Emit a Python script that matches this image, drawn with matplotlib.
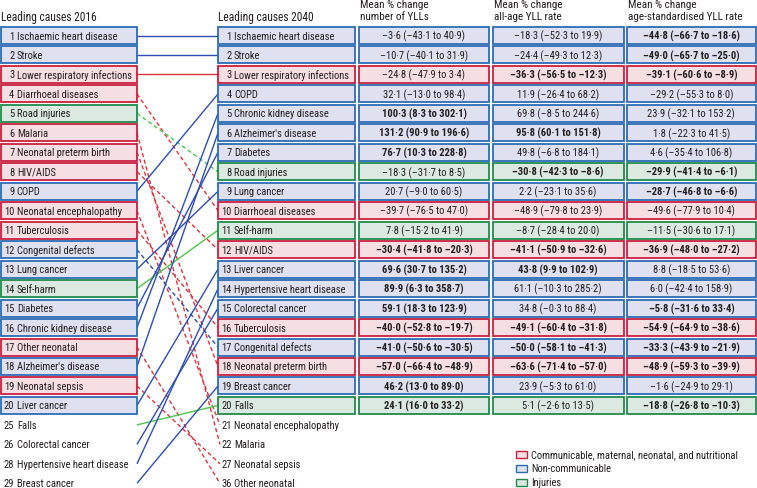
#!/usr/bin/env python3
"""Leading causes of YLLs, 2016 vs 2040 ranking chart."""

import matplotlib
matplotlib.use("Agg")
import matplotlib.pyplot as plt
from matplotlib import font_manager
from matplotlib.patches import Rectangle

# ---- data -------------------------------------------------------------
causes_2016 = [
    "Ischaemic heart disease", "Stroke", "Lower respiratory infections",
    "Diarrhoeal diseases", "Road injuries", "Malaria", "Neonatal preterm birth",
    "HIV/AIDS", "COPD", "Neonatal encephalopathy", "Tuberculosis",
    "Congenital defects", "Lung cancer", "Self-harm", "Diabetes",
    "Chronic kidney disease", "Other neonatal", "Alzheimer's disease",
    "Neonatal sepsis", "Liver cancer",
]
extra_2016_ranks = [25, 26, 28, 29]
extra_2016_names = ["Falls", "Colorectal cancer", "Hypertensive heart disease", "Breast cancer"]

causes_2040 = [
    "Ischaemic heart disease", "Stroke", "Lower respiratory infections", "COPD",
    "Chronic kidney disease", "Alzheimer's disease", "Diabetes", "Road injuries",
    "Lung cancer", "Diarrhoeal diseases", "Self-harm", "HIV/AIDS", "Liver cancer",
    "Hypertensive heart disease", "Colorectal cancer", "Tuberculosis",
    "Congenital defects", "Neonatal preterm birth", "Breast cancer", "Falls",
]
extra_2040_ranks = [21, 22, 27, 36]
extra_2040_names = ["Neonatal encephalopathy", "Malaria", "Neonatal sepsis", "Other neonatal"]

communicable = ["Lower respiratory infections", "Diarrhoeal diseases", "Malaria",
                "Neonatal preterm birth", "HIV/AIDS", "Neonatal encephalopathy",
                "Tuberculosis", "Other neonatal", "Neonatal sepsis"]
injuries = ["Road injuries", "Self-harm", "Falls"]

# mean % change, number of YLLs (rows follow causes_2040)
num_mean = [-3.6, -10.7, -24.8, 32.1, 100.3, 131.2, 76.7, -18.3, 20.7, -39.7,
            7.8, -30.4, 69.6, 89.9, 59.1, -40.0, -41.0, -57.0, 46.2, 24.1]
num_lo = [-43.1, -40.1, -47.9, -13.0, 8.3, 90.9, 10.3, -31.7, -9.0, -76.5,
          -15.2, -41.8, 30.7, 6.3, 18.3, -52.8, -50.6, -66.4, 13.0, 16.0]
num_hi = [40.9, 31.9, 3.4, 98.4, 302.1, 196.6, 228.8, 8.5, 60.5, 47.0,
          41.9, -20.3, 135.2, 358.7, 123.9, -19.7, -30.5, -48.9, 89.0, 33.2]
num_sig = [0, 0, 0, 0, 1, 1, 1, 0, 0, 0, 0, 1, 1, 1, 1, 1, 1, 1, 1, 1]

# mean % change, all-age YLL rate
rate_mean = [-18.3, -24.4, -36.3, 11.9, 69.8, 95.8, 49.8, -30.8, 2.2, -48.9,
             -8.7, -41.1, 43.8, 61.1, 34.8, -49.1, -50.0, -63.6, 23.9, 5.1]
rate_lo = [-52.3, -49.3, -56.5, -26.4, -8.5, 60.1, -6.8, -42.3, -23.1, -79.8,
           -28.4, -50.9, 9.9, -10.3, -0.3, -60.4, -58.1, -71.4, -5.3, -2.6]
rate_hi = [19.9, 12.3, -12.3, 68.2, 244.6, 151.8, 184.1, -8.6, 35.6, 23.9,
           20.0, -32.6, 102.9, 285.2, 88.4, -31.8, -41.3, -57.0, 61.0, 13.5]
rate_sig = [0, 0, 1, 0, 0, 1, 0, 1, 0, 0, 0, 1, 1, 0, 0, 1, 1, 1, 0, 0]

# mean % change, age-standardised YLL rate
std_mean = [-44.8, -49.0, -39.1, -29.2, 23.9, 1.8, 4.6, -29.9, -28.7, -49.6,
            -11.5, -36.9, 8.8, 6.0, -5.8, -54.9, -33.3, -48.9, -1.6, -18.8]
std_lo = [-66.7, -65.7, -60.6, -55.3, -32.1, -22.3, -35.4, -41.4, -46.8, -77.9,
          -30.6, -48.0, -18.5, -42.4, -31.6, -64.9, -43.9, -59.3, -24.9, -26.8]
std_hi = [-18.6, -25.0, -8.9, 8.0, 153.2, 41.5, 106.8, -6.1, -6.6, 10.4,
          17.1, -27.2, 53.6, 158.9, 33.4, -38.6, -21.9, -39.9, 29.1, -10.3]
std_sig = [1, 1, 1, 0, 0, 0, 0, 1, 1, 0, 0, 1, 0, 0, 1, 1, 1, 1, 0, 1]

col_headers = ["Mean % change\nnumber of YLLs", "Mean % change\nall-age YLL rate",
               "Mean % change\nage-standardised YLL rate"]
legend_labels = ["Communicable, maternal, neonatal, and nutritional",
                 "Non-communicable", "Injuries"]

# ---- style ------------------------------------------------------------
available = {f.name for f in font_manager.fontManager.ttflist}
for fam in ["Liberation Sans Narrow", "Roboto Condensed", "Open Sans Condensed", "Lato", "DejaVu Sans"]:
    if fam in available:
        FONT = fam
        break
plt.rcParams["font.family"] = [FONT, "DejaVu Sans"]
FS = 7.6

FILL = {"c": "#f6dfe2", "n": "#dfe1f1", "i": "#dbe9e1"}
EDGE = {"c": "#c8203f", "n": "#2c6cb4", "i": "#1f8a4c"}
LINE = {"c": "#d8363c", "n": "#2f4db2", "i": "#4cc54c"}


def cat(name):
    if name in communicable:
        return "c"
    if name in injuries:
        return "i"
    return "n"


def fmt(v):
    return f"{v:.1f}".replace(".", "\u00b7").replace("-", "\u2013")


TOP, PITCH, BH = 28.0, 19.47, 17.0


def yc(row):
    return TOP + (row - 1) * PITCH + BH / 2


fig = plt.figure(figsize=(7.57, 4.89), dpi=100)
ax = fig.add_axes([0, 0, 1, 1])
ax.set_xlim(0, 757)
ax.set_ylim(489, 0)
ax.axis("off")

L0, L1 = 0.8, 137.0
R0, R1 = 218.0, 355.0
stat_cols = [(359.0, 489.0), (492.5, 623.5), (626.5, 756.2)]


def cell(x0, x1, row, c):
    ax.add_patch(Rectangle((x0, TOP + (row - 1) * PITCH), x1 - x0, BH,
                           facecolor=FILL[c], edgecolor=EDGE[c], lw=1.3, zorder=2))


def ranked_label(x0, row, rank, name):
    ax.text(x0 + 11.5, yc(row), str(rank), ha="right", va="center", fontsize=FS,
            color="#231f20", zorder=3)
    ax.text(x0 + 14, yc(row), name, ha="left", va="center", fontsize=FS,
            color="#231f20", zorder=3)


# headers
ax.text(L0, 17, "Leading causes 2016", fontsize=8.3, va="center", color="#231f20")
ax.text(R0, 17, "Leading causes 2040", fontsize=8.3, va="center", color="#231f20")
for (x0, _), head in zip(stat_cols, col_headers):
    ax.text(x0 + 1, 11.5, head, fontsize=8.0, va="center", linespacing=1.25, color="#231f20")

# 2016 column
for i, name in enumerate(causes_2016):
    cell(L0, L1, i + 1, cat(name))
    ranked_label(L0 + 2, i + 1, i + 1, name)
for j, (rk, name) in enumerate(zip(extra_2016_ranks, extra_2016_names)):
    ranked_label(L0 + 2, 21 + j, rk, name)

# 2040 column
for i, name in enumerate(causes_2040):
    cell(R0, R1, i + 1, cat(name))
    ranked_label(R0 + 2, i + 1, i + 1, name)
for j, (rk, name) in enumerate(zip(extra_2040_ranks, extra_2040_names)):
    ranked_label(R0 + 2, 21 + j, rk, name)

# connecting lines
rank16 = {n: i + 1 for i, n in enumerate(causes_2016)}
rank16.update(dict(zip(extra_2016_names, extra_2016_ranks)))
row16 = {n: i + 1 for i, n in enumerate(causes_2016)}
row16.update({n: 21 + j for j, n in enumerate(extra_2016_names)})
rank40 = {n: i + 1 for i, n in enumerate(causes_2040)}
rank40.update(dict(zip(extra_2040_names, extra_2040_ranks)))
row40 = {n: i + 1 for i, n in enumerate(causes_2040)}
row40.update({n: 21 + j for j, n in enumerate(extra_2040_names)})

for name in rank16:
    if name not in rank40:
        continue
    worse = rank40[name] > rank16[name]
    x_end = R0 if row40[name] <= 20 else R0 + 2
    ax.plot([L1, x_end], [yc(row16[name]), yc(row40[name])],
            color=LINE[cat(name)], lw=1.0, ls=(0, (3, 2)) if worse else "-",
            zorder=1, solid_capstyle="butt")

# stats columns
stats = [(num_mean, num_lo, num_hi, num_sig),
         (rate_mean, rate_lo, rate_hi, rate_sig),
         (std_mean, std_lo, std_hi, std_sig)]
for (x0, x1), (m, lo, hi, sig) in zip(stat_cols, stats):
    for i, name in enumerate(causes_2040):
        cell(x0, x1, i + 1, cat(name))
        ax.text((x0 + x1) / 2, yc(i + 1), f"{fmt(m[i])} ({fmt(lo[i])} to {fmt(hi[i])})",
                ha="center", va="center", fontsize=FS, zorder=3,
                color="#231f20", fontweight="bold" if sig[i] else "normal")

# legend
for k, (c, lab) in enumerate(zip(["c", "n", "i"], legend_labels)):
    y = 455 + k * 14
    ax.add_patch(Rectangle((515.5, y - 3.5), 11.5, 7.5, facecolor=FILL[c],
                           edgecolor=EDGE[c], lw=1.0))
    ax.text(531, y, lab, fontsize=7.6, va="center", color="#231f20")

fig.savefig("out.png", dpi=100)
